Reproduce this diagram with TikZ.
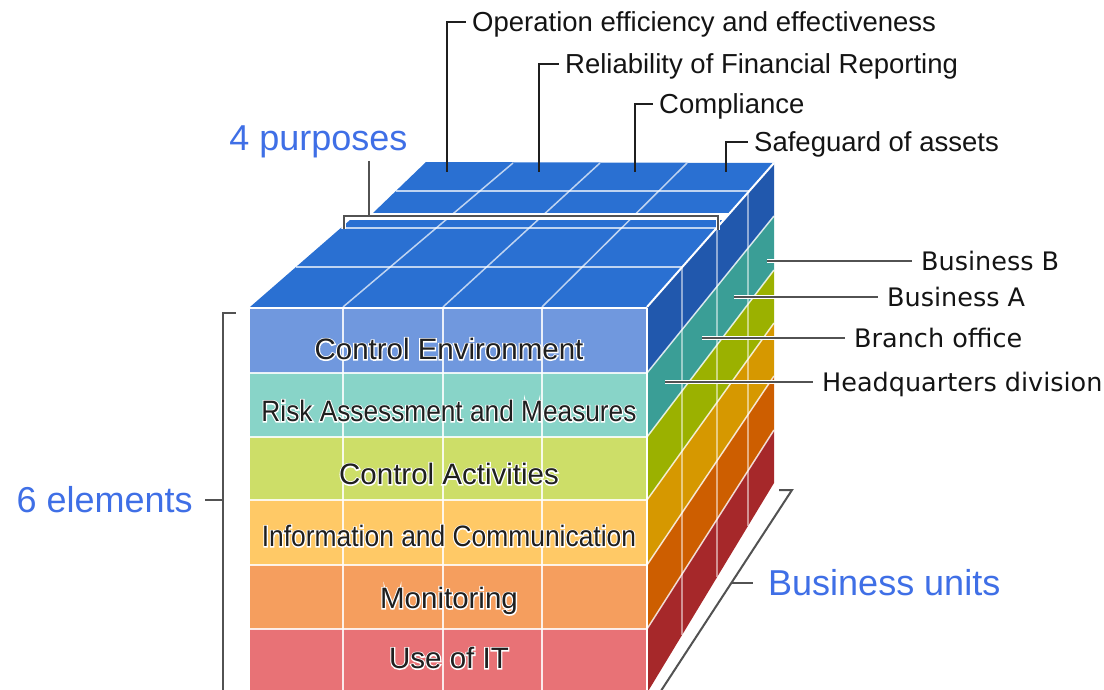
\documentclass[tikz,border=0pt]{standalone}
\usepackage{fontspec}
\setmainfont{Liberation Sans}
\newfontfamily\dvfont{DejaVu Sans}
\newfontfamily\halofont[FakeBold=8]{Liberation Sans}
\newcommand\halotext[1]{\leavevmode\rlap{\textcolor{white}{\halofont #1}}#1}
\definecolor{topblue}{HTML}{2A70D2}
\definecolor{ra}{HTML}{2158AD}
\definecolor{rb}{HTML}{3A9E96}
\definecolor{rc}{HTML}{9BB100}
\definecolor{rd}{HTML}{D69800}
\definecolor{re}{HTML}{CD5E00}
\definecolor{rf}{HTML}{A6282A}
\definecolor{fa}{HTML}{7098DE}
\definecolor{fb}{HTML}{88D4C8}
\definecolor{fc}{HTML}{CDDE68}
\definecolor{fd}{HTML}{FFC966}
\definecolor{fe}{HTML}{F59E5E}
\definecolor{ff}{HTML}{E87276}
\definecolor{ublue}{HTML}{3F6FE6}
\tikzset{
  toplabel/.style={anchor=west, inner sep=0pt, text=black!92, font=\fontsize{27.5}{30}\selectfont, text height=19.7pt, text depth=0pt},
  unitlabel/.style={anchor=west, inner sep=0pt, text=black!92, font=\dvfont\fontsize{25.5}{30}\selectfont, text height=18.6pt, text depth=0pt},
  bluelabel/.style={inner sep=0pt, text=ublue, font=\fontsize{36}{40}\selectfont, text height=25.8pt, text depth=0pt},
  elemlabel/.style={anchor=center, inner sep=0pt, text=black!88, font=\fontsize{29.5}{32}\selectfont, text height=21.1pt, text depth=0pt},
  leader/.style={draw=black!88, line width=2.4pt},
  halo/.style={draw=white, line width=5pt},
  bracketline/.style={draw=black!68, line width=2pt},
  gridtop/.style={draw=white, opacity=0.7, line width=1.5pt},
  gridfront/.style={draw=white, opacity=0.85, line width=1.6pt},
  gridside/.style={draw=white, opacity=0.5, line width=1.5pt},
  gridsiderow/.style={draw=white, opacity=0.8, line width=1.5pt},
  edge/.style={draw=white, line width=2pt},
}
\begin{document}
\begin{tikzpicture}[x=1pt,y=-1pt]
\useasboundingbox (0,0) rectangle (1104,690);
\clip (0,0) rectangle (1104,690);

% ---------- top face ----------
\fill[topblue] (373,213) -- (729.9,213) -- (774,163) -- (426,162) -- cycle;
\fill[topblue] (250,307) -- (647,307) -- (723.7,220) -- (350,220) -- cycle;
\draw[gridtop] (395.9,191) -- (749.3,191);
\draw[gridtop] (340.8,228) -- (716.7,228);
\draw[gridtop] (296,267) -- (682.3,267);
\draw[gridtop] (343,307) -- (513,163);
\draw[gridtop] (443,307) -- (600,163);
\draw[gridtop] (542,307) -- (687,163);
% gap between the two top parts
\fill[white] (345,213.2) -- (731,213.2) -- (725,219.8) -- (340,219.8) -- cycle;

% ---------- right face ----------
\foreach \fa/\fb/\ba/\bb/\c in {307/373/163/216/ra, 373/437/216/270/rb, 437/500/270/323/rc, 500/565/323/376/rd, 565/629/376/430/re, 629/693/430/483/rf}{
  \fill[\c] (647,\fa) -- (774,\ba) -- (774,\bb) -- (647,\fb) -- cycle;
}
\foreach \fa/\ba in {373/216, 437/270, 500/323, 565/376, 629/430}{
  \draw[gridsiderow] (647,\fa) -- (774,\ba);
}
\draw[gridside] (682,267.3) -- (682,635.1);
\draw[gridside] (717,227.6) -- (717,577.2);
\draw[gridside] (748,192.5) -- (748,526.0);

% ---------- front face ----------
\foreach \ya/\yb/\c in {307/373/fa, 373/437/fb, 437/500/fc, 500/565/fd, 565/629/fe, 629/693/ff}{
  \fill[\c] (250,\ya) rectangle (647,\yb);
}
\foreach \y in {373,437,500,565,629}{
  \draw[gridfront] (250,\y) -- (647,\y);
}
\foreach \x in {343,443,542}{
  \draw[gridfront] (\x,308) -- (\x,693);
}

% ---------- edges ----------
\draw[edge] (250,308) -- (647,308);
\draw[edge] (647,308) -- (647,693);
\draw[edge] (647,307) -- (774,163);

% ---------- element labels ----------
\node[elemlabel] (e1) at (449,349) {\halotext{Control Environment}};
\node[elemlabel] (e2) at (449,411) {\scalebox{0.89}[1]{\halotext{Risk Assessment and Measures}}};
\node[elemlabel] (e3) at (449,474) {\halotext{Control Activities}};
\node[elemlabel] (e4) at (449,536) {\scalebox{0.895}[1]{\halotext{Information and Communication}}};
\node[elemlabel] (e5) at (449,598) {\halotext{Monitoring}};
\node[elemlabel] (e6) at (449,658) {\halotext{Use of IT}};

% ---------- purposes (top labels) ----------
\node[toplabel] (p1) at (472,22) {Operation efficiency and effectiveness};
\node[toplabel] (p2) at (565,64) {Reliability of Financial Reporting};
\node[toplabel] (p3) at (659,104) {Compliance};
\node[toplabel] (p4) at (754,142) {Safeguard of assets};
\coordinate (p1b) at (447,172);
\coordinate (p2b) at (539,172);
\coordinate (p3b) at (635,172);
\coordinate (p4b) at (726,172);
\draw[leader] (p1b) |- ([xshift=-6pt]p1.west);
\draw[leader] (p2b) |- ([xshift=-6pt]p2.west);
\draw[leader] (p3b) |- ([xshift=-6pt]p3.west);
\draw[leader] (p4b) |- ([xshift=-6pt]p4.west);

% ---------- 4 purposes ----------
\node[bluelabel, anchor=center] (pur) at (318.5,138) {4 purposes};
\coordinate (purT) at (369,161);
\coordinate (purM) at (369,216.5);
\coordinate (purL) at (344,229);
\coordinate (purLt) at (344,216.5);
\coordinate (purRt) at (718,216.5);
\coordinate (purR) at (718,230);
\draw[halo, line width=4.5pt] (purL) -- (purLt) -- (purRt) -- (purR);
\draw[bracketline] (purL) -- (purLt) -- (purRt) -- (purR);
\draw[bracketline] (purT) -- (purM);

% ---------- business units (right labels) ----------
\node[unitlabel] (u1) at (921,261) {Business B};
\node[unitlabel] (u2) at (887,297) {Business A};
\node[unitlabel] (u3) at (854,338) {Branch office};
\node[unitlabel] (u4) at (822,382) {Headquarters division};
\coordinate (u1a) at (767,261);
\coordinate (u2a) at (734,297);
\coordinate (u3a) at (702,338);
\coordinate (u4a) at (665,382);
\foreach \n in {1,2,3,4}{
  \draw[draw=white, line width=4.5pt] (u\n a) -- ([xshift=-9pt]u\n.west);
  \draw[bracketline] (u\n a) -- ([xshift=-9pt]u\n.west);
}

% ---------- 6 elements ----------
\node[bluelabel, anchor=east] (six) at (193,500) {6 elements};
\coordinate (sixB) at (222.5,700);
\coordinate (sixT) at (222.5,313);
\coordinate (sixTt) at (236,313);
\coordinate (sixM) at (222.5,500);
\draw[bracketline] (sixB) -- (sixT) -- (sixTt);
\draw[bracketline] ([xshift=12pt]six.east) -- (sixM);

% ---------- Business units ----------
\node[bluelabel, anchor=west] (bu) at (768,583) {Business units};
\coordinate (buTt) at (779,490);
\coordinate (buT) at (792,490);
\coordinate (buB) at (655,700);
\coordinate (buM) at (731.5,583);
\draw[bracketline] (buTt) -- (buT) -- (buB);
\draw[bracketline] (buM) -- ([xshift=-15pt]bu.west);
\end{tikzpicture}
\end{document}
